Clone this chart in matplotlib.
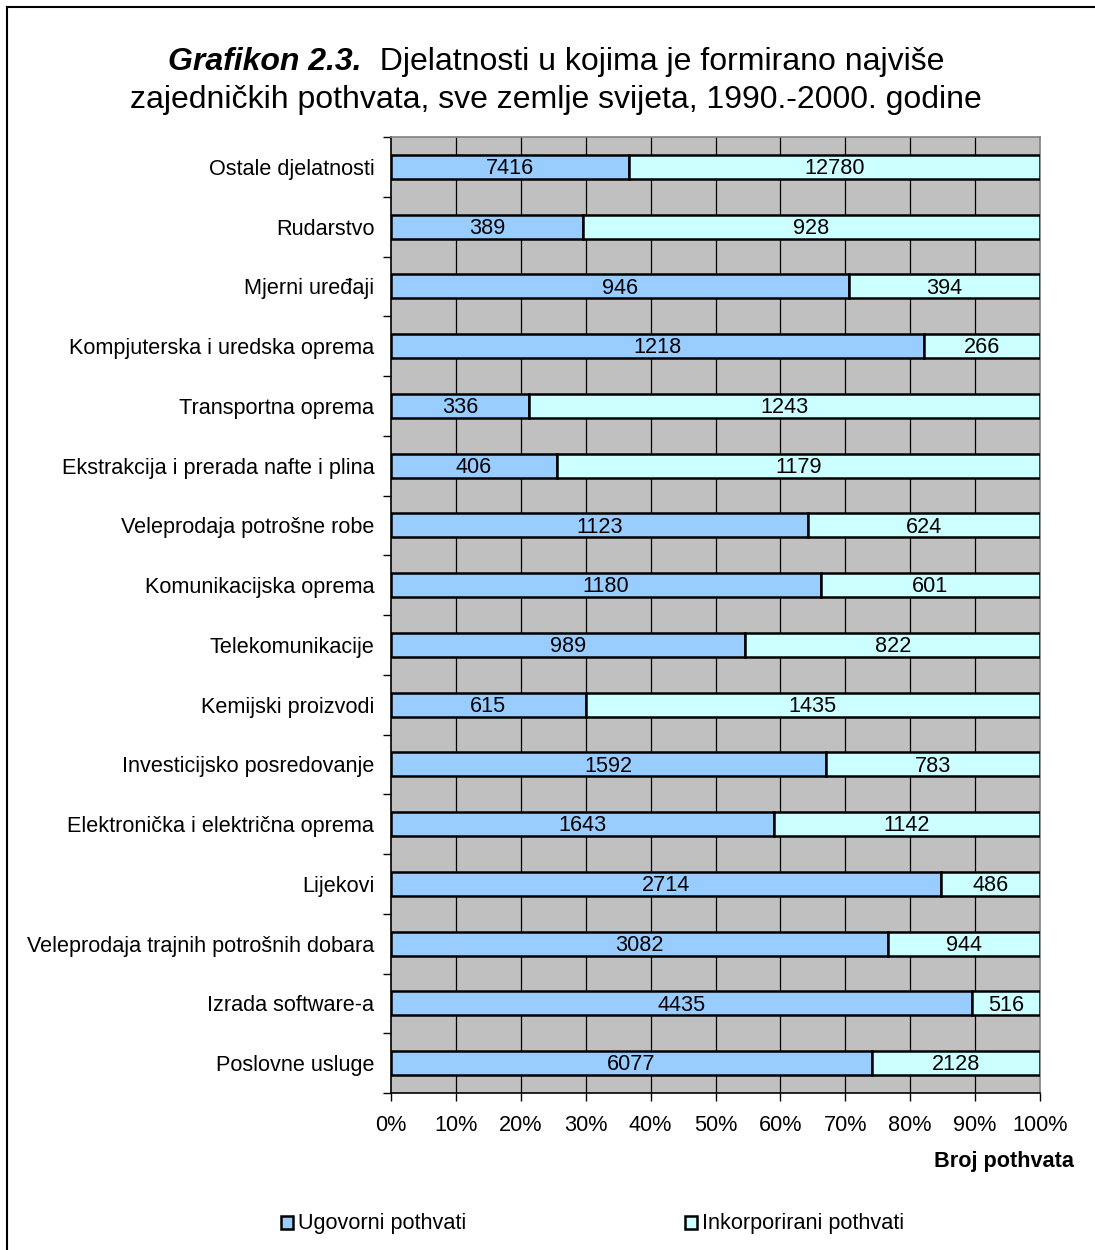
import matplotlib
matplotlib.use("Agg")
import matplotlib.pyplot as plt
from matplotlib.lines import Line2D
from matplotlib.patches import Rectangle
import numpy as np

plt.rcParams['font.family'] = ['Liberation Sans', 'DejaVu Sans']

# Industries, listed top to bottom
categories = [
    "Ostale djelatnosti",
    "Rudarstvo",
    "Mjerni uređaji",
    "Kompjuterska i uredska oprema",
    "Transportna oprema",
    "Ekstrakcija i prerada nafte i plina",
    "Veleprodaja potrošne robe",
    "Komunikacijska oprema",
    "Telekomunikacije",
    "Kemijski proizvodi",
    "Investicijsko posredovanje",
    "Elektronička i električna oprema",
    "Lijekovi",
    "Veleprodaja trajnih potrošnih dobara",
    "Izrada software-a",
    "Poslovne usluge",
]
ugovorni = [7416, 389, 946, 1218, 336, 406, 1123, 1180, 989, 615, 1592, 1643, 2714, 3082, 4435, 6077]
inkorporirani = [12780, 928, 394, 266, 1243, 1179, 624, 601, 822, 1435, 783, 1142, 486, 944, 516, 2128]
x_ticks = [0, 10, 20, 30, 40, 50, 60, 70, 80, 90, 100]
series_names = ["Ugovorni pothvati", "Inkorporirani pothvati"]

col_a = "#99CCFF"
col_b = "#CCFFFF"
FS = 15.6

W, H = 1095, 1250
fig = plt.figure(figsize=(W / 100, H / 100), dpi=100)
ax = fig.add_axes([391 / W, 1 - 1093 / H, (1040 - 391) / W, (1093 - 137) / H])

n = len(categories)
a = np.array(ugovorni, dtype=float)
b = np.array(inkorporirani, dtype=float)
tot = a + b
pa = a / tot * 100
pb = b / tot * 100
y = np.arange(n)

ax.set_facecolor("#C0C0C0")
ax.set_xlim(0, 100)
ax.set_ylim(n - 0.5, -0.5)

# Vertical gridlines at every 10 %
for t in x_ticks[1:-1]:
    ax.axvline(t, color="black", linewidth=0.9, zorder=1)

ax.barh(y, pa, height=0.4, color=col_a, edgecolor="black", linewidth=1.8, zorder=3)
ax.barh(y, pb, left=pa, height=0.4, color=col_b, edgecolor="black", linewidth=1.8, zorder=3)

dy = 0.03  # small downward nudge so digits sit visually centred in the bar
for i in range(n):
    ax.text(pa[i] / 2, y[i] + dy, str(ugovorni[i]), ha="center", va="center", fontsize=FS, zorder=4)
    ax.text(pa[i] + pb[i] / 2, y[i] + dy, str(inkorporirani[i]), ha="center", va="center",
            fontsize=FS, zorder=4)

ax.set_xticks(x_ticks)
ax.set_xticklabels([f"{t}%" for t in x_ticks], fontsize=FS)
ax.set_yticks(y)
ax.set_yticklabels(categories, fontsize=FS)
ax.set_yticks(np.arange(-0.5, n, 1), minor=True)

ax.tick_params(axis="y", which="major", length=0, pad=12)
ax.tick_params(axis="y", which="minor", length=6, width=1, direction="out")
ax.tick_params(axis="x", which="major", length=6, width=1, direction="out", pad=10)

ax.spines["left"].set_color("black")
ax.spines["bottom"].set_color("black")
ax.spines["left"].set_linewidth(1.2)
ax.spines["bottom"].set_linewidth(1.2)
ax.spines["top"].set_color("#808080")
ax.spines["right"].set_color("#808080")
ax.spines["top"].set_linewidth(1.2)
ax.spines["right"].set_linewidth(1.2)

# Title: bold italic prefix followed by regular text, centred as one line
TFS = 23
renderer = fig.canvas.get_renderer()
t1 = fig.text(0, 1 - 62 / H, "Grafikon 2.3.", ha="left", va="center", fontsize=TFS,
              fontweight="bold", fontstyle="italic")
t2 = fig.text(0, 1 - 62 / H, "  Djelatnosti u kojima je formirano najviše", ha="left",
              va="center", fontsize=TFS)
w1 = t1.get_window_extent(renderer).width
w2 = t2.get_window_extent(renderer).width
cx = 556
x0 = cx - (w1 + w2) / 2
t1.set_x(x0 / W)
t2.set_x((x0 + w1) / W)
fig.text(cx / W, 1 - 100 / H, "zajedničkih pothvata, sve zemlje svijeta, 1990.-2000. godine",
         ha="center", va="center", fontsize=TFS)

fig.text(1074 / W, 1 - 1161 / H, "Broj pothvata", ha="right", va="center",
         fontsize=FS, fontweight="bold")

# Legend
for xpos, name, col in [(281, series_names[0], col_a), (685, series_names[1], col_b)]:
    fig.patches.append(Rectangle((xpos / W, 1 - 1229 / H), 12 / W, 13 / H,
                                 transform=fig.transFigure, facecolor=col,
                                 edgecolor="black", linewidth=1.8))
    fig.text((xpos + 17) / W, 1 - 1223 / H, name, ha="left", va="center", fontsize=FS)

# Outer frame (top and left edges)
fig.add_artist(Line2D([7 / W, 1.0], [1 - 7 / H, 1 - 7 / H], transform=fig.transFigure,
                      color="black", linewidth=1.5))
fig.add_artist(Line2D([7 / W, 7 / W], [0.0, 1 - 7 / H], transform=fig.transFigure,
                      color="black", linewidth=1.5))

fig.savefig("out.png", dpi=100)
